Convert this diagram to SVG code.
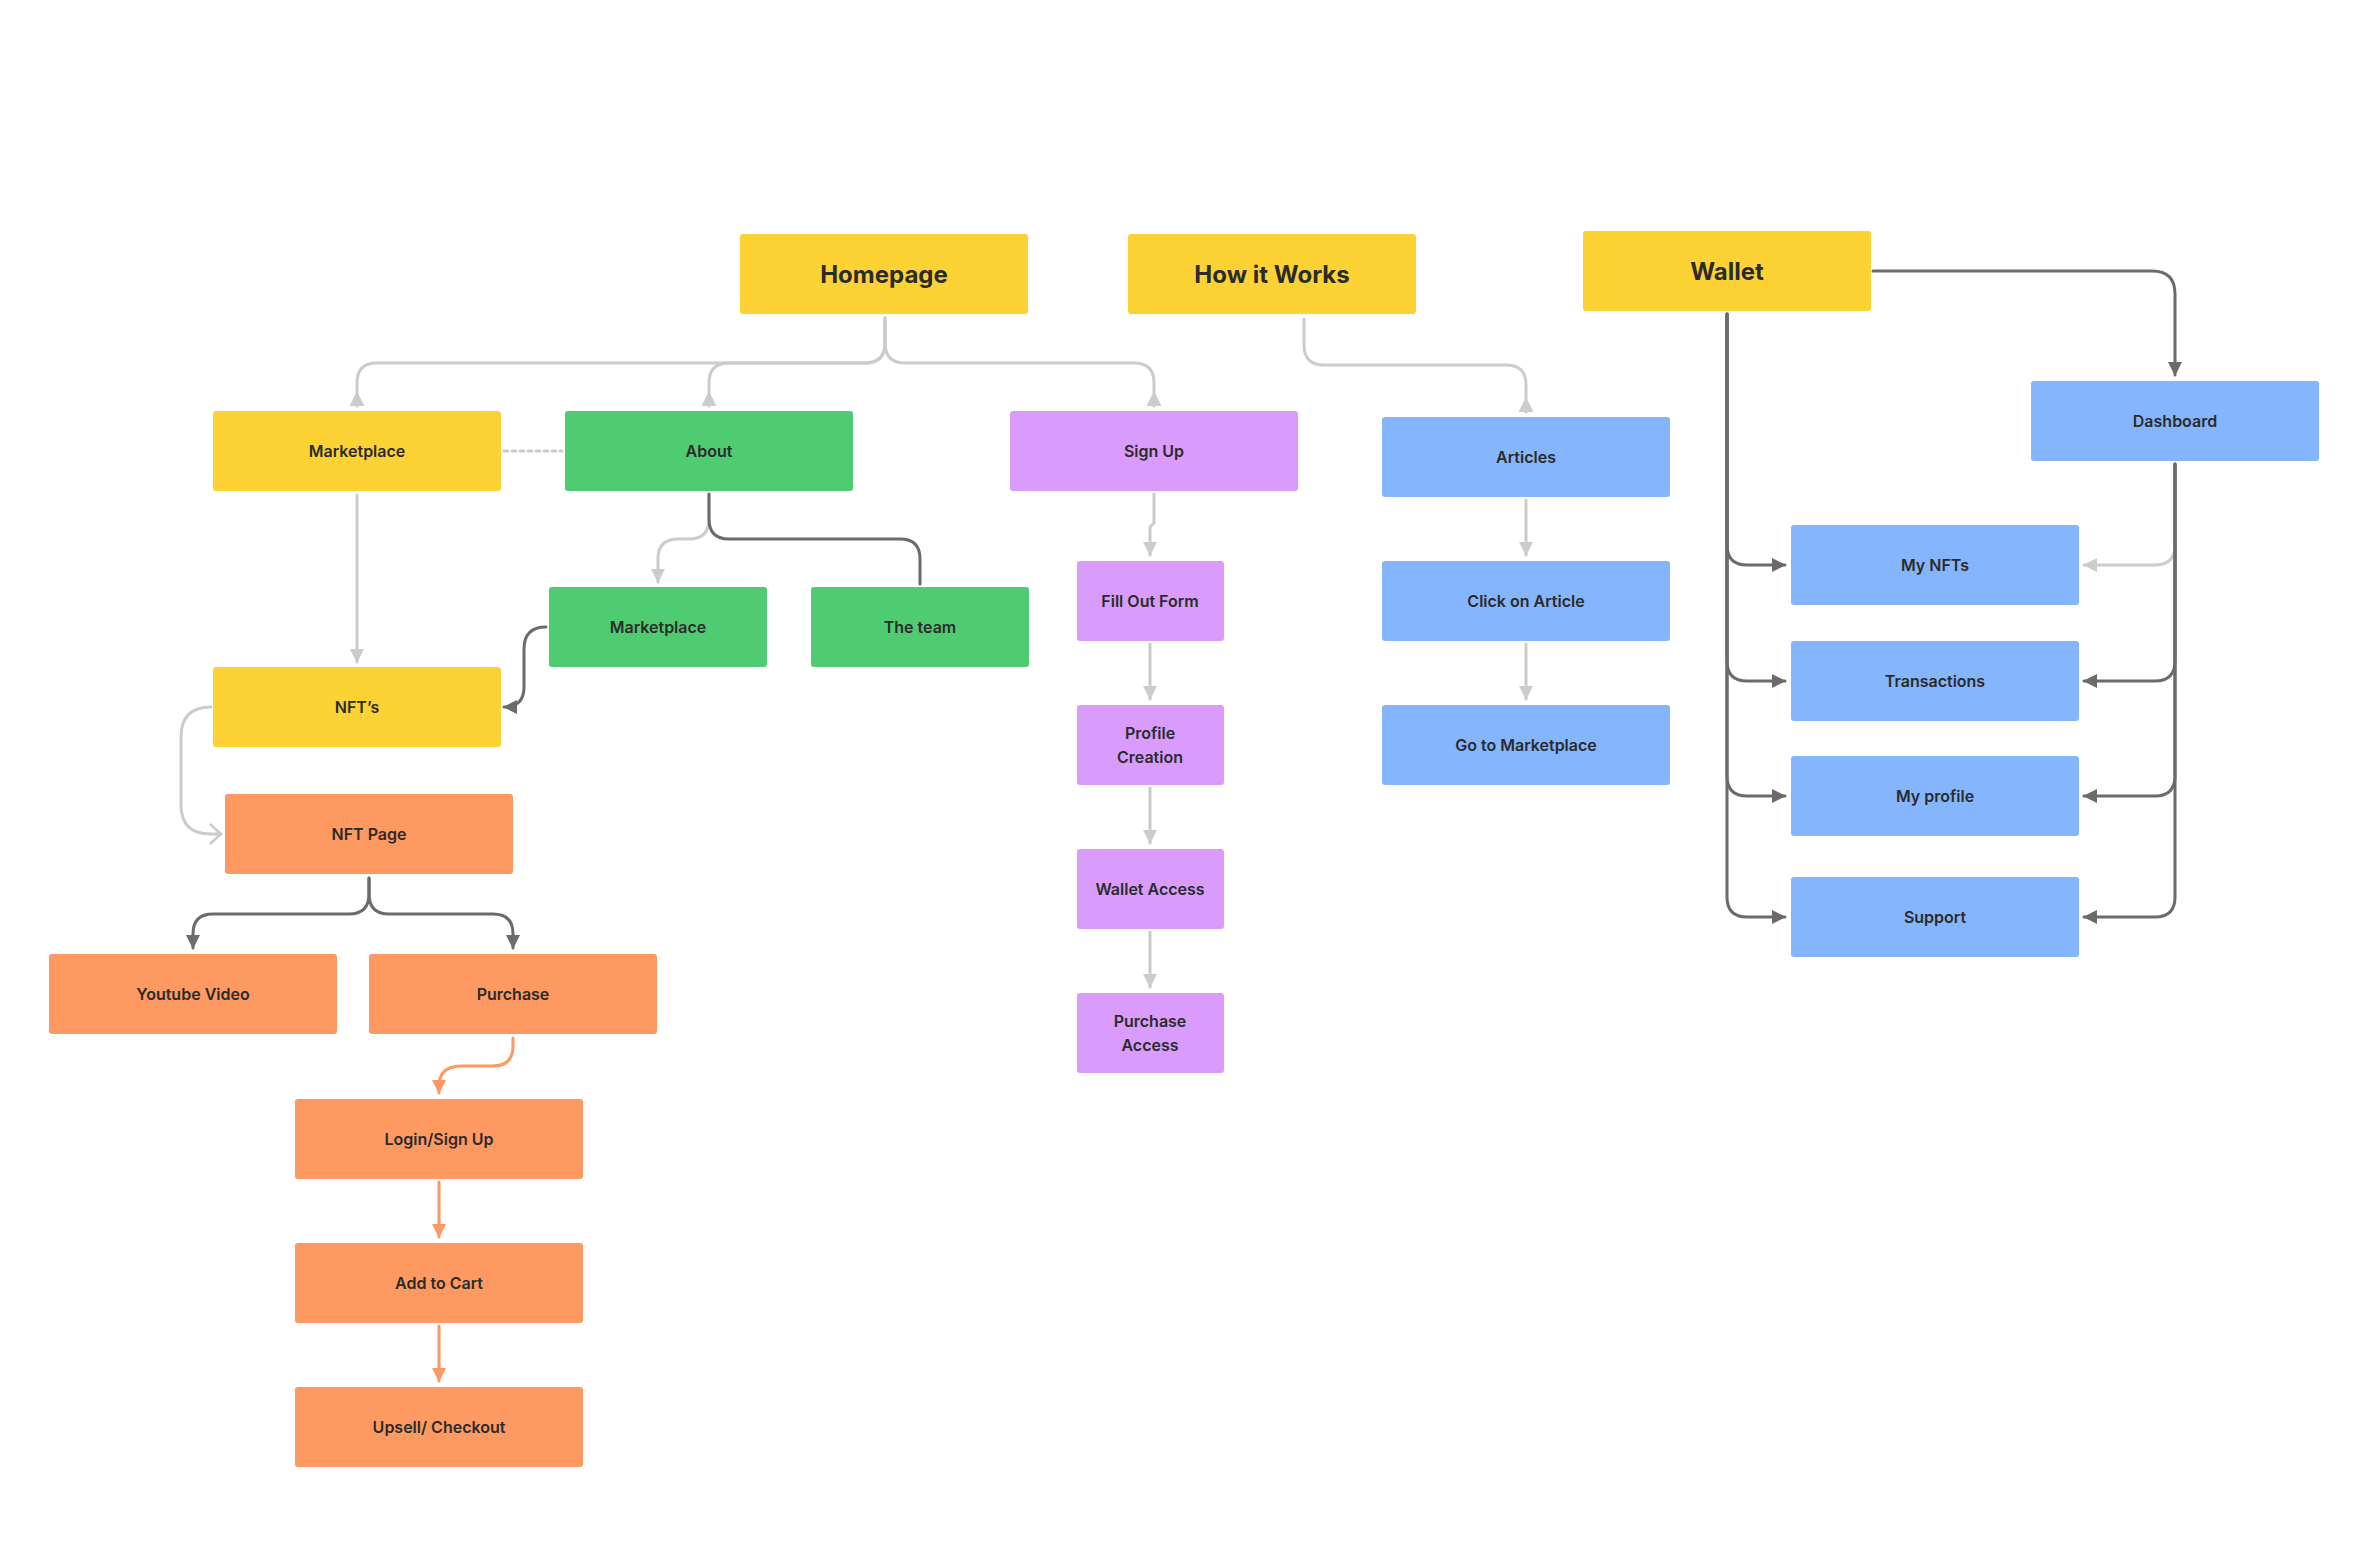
<svg xmlns="http://www.w3.org/2000/svg" width="2368" height="1556" viewBox="0 0 2368 1556">
<style>
.n{stroke:none}
.y{fill:#FDD234}
.g{fill:#4FCB71}
.p{fill:#D99CFC}
.b{fill:#85B5FC}
.o{fill:#FE9A61}
.t{font-family:Inter,"Liberation Sans",sans-serif;font-weight:600;fill:#2B2B2B;text-anchor:middle;dominant-baseline:central;font-size:16px}
.h{font-size:24px;font-weight:700}
.c{fill:none;stroke-width:3;stroke-linecap:round;stroke-linejoin:round}
.lg{stroke:#CCCCCC}
.dk{stroke:#6B6B6E}
.or{stroke:#FE9A61}
</style>
<defs>
<marker id="aL" markerUnits="userSpaceOnUse" viewBox="0 0 14 14" markerWidth="14" markerHeight="14" refX="13" refY="7" orient="auto"><path d="M0,0 L14,7 L0,14 z" fill="#CCCCCC"/></marker>
<marker id="aU" markerUnits="userSpaceOnUse" viewBox="0 0 15 15" markerWidth="15" markerHeight="15" refX="15" refY="7.5" orient="auto"><path d="M15,0 L0,7.5 L15,15 z" fill="#CCCCCC"/></marker>
<marker id="aD" markerUnits="userSpaceOnUse" viewBox="0 0 14 14" markerWidth="14" markerHeight="14" refX="13" refY="7" orient="auto"><path d="M0,0 L14,7 L0,14 z" fill="#6B6B6E"/></marker>
<marker id="aO" markerUnits="userSpaceOnUse" viewBox="0 0 14 14" markerWidth="14" markerHeight="14" refX="13" refY="7" orient="auto"><path d="M0,0 L14,7 L0,14 z" fill="#FE9A61"/></marker>
<marker id="aV" markerUnits="userSpaceOnUse" viewBox="0 0 14 22" markerWidth="14" markerHeight="22" refX="12" refY="11" orient="auto"><path d="M1.5,1.5 L12,11 L1.5,20.5" fill="none" stroke="#CCCCCC" stroke-width="2.5" stroke-linecap="round"/></marker>
</defs>
<rect width="2368" height="1556" fill="#FFFFFF"/>
<g id="connectors">
<path class="c lg" d="M885 318 V343 Q885 363 865 363 H377 Q357 363 357 383 V406" marker-end="url(#aU)"/>
<path class="c lg" d="M885 318 V343 Q885 363 865 363 H729 Q709 363 709 383 V406" marker-end="url(#aU)"/>
<path class="c lg" d="M885 318 V343 Q885 363 905 363 H1134 Q1154 363 1154 383 V406" marker-end="url(#aU)"/>
<path class="c lg" d="M1304 319 V345 Q1304 365 1324 365 H1506 Q1526 365 1526 385 V412" marker-end="url(#aU)"/>
<path class="c lg" d="M504 451 H562" stroke-dasharray="4 4" stroke-linecap="butt"/>
<path class="c lg" d="M357 495 V662" marker-end="url(#aL)"/>
<path class="c lg" d="M709 494 V519 Q709 539 689 539 H678 Q658 539 658 559 V582" marker-end="url(#aL)"/>
<path class="c dk" d="M709 494 V519 Q709 539 729 539 H900 Q920 539 920 559 V584"/>
<path class="c dk" d="M546 627 Q524 627 524 649 V687 Q524 707 504 707" marker-end="url(#aD)"/>
<path class="c lg" d="M211 707 Q181 707 181 737 V805 Q181 834 211 834 H221" marker-end="url(#aV)"/>
<path class="c dk" d="M369 878 V894 Q369 914 349 914 H213 Q193 914 193 934 V948" marker-end="url(#aD)"/>
<path class="c dk" d="M369 878 V894 Q369 914 389 914 H493 Q513 914 513 934 V948" marker-end="url(#aD)"/>
<path class="c or" d="M513 1038 V1046 Q513 1066 493 1066 H462 Q439 1066 439 1086 V1093" marker-end="url(#aO)"/>
<path class="c or" d="M439 1182 V1237" marker-end="url(#aO)"/>
<path class="c or" d="M439 1326 V1381" marker-end="url(#aO)"/>
<path class="c lg" d="M1154 494 V523 L1150 527 V555" marker-end="url(#aL)"/>
<path class="c lg" d="M1150 644 V699" marker-end="url(#aL)"/>
<path class="c lg" d="M1150 788 V843" marker-end="url(#aL)"/>
<path class="c lg" d="M1150 932 V987" marker-end="url(#aL)"/>
<path class="c lg" d="M1526 500 V555" marker-end="url(#aL)"/>
<path class="c lg" d="M1526 644 V699" marker-end="url(#aL)"/>
<path class="c dk" d="M1873 271 H2152 Q2175 271 2175 294 V375" marker-end="url(#aD)"/>
<path class="c dk" d="M1727 314 V545 Q1727 565 1747 565 H1785" marker-end="url(#aD)"/>
<path class="c dk" d="M1727 314 V661 Q1727 681 1747 681 H1785" marker-end="url(#aD)"/>
<path class="c dk" d="M1727 314 V776 Q1727 796 1747 796 H1785" marker-end="url(#aD)"/>
<path class="c dk" d="M1727 314 V897 Q1727 917 1747 917 H1785" marker-end="url(#aD)"/>
<path class="c lg" d="M2175 545 Q2175 565 2155 565 H2084" marker-end="url(#aL)"/>
<path class="c dk" d="M2175 464 V661 Q2175 681 2155 681 H2084" marker-end="url(#aD)"/>
<path class="c dk" d="M2175 464 V776 Q2175 796 2155 796 H2084" marker-end="url(#aD)"/>
<path class="c dk" d="M2175 464 V897 Q2175 917 2155 917 H2084" marker-end="url(#aD)"/>
</g>
<g id="homepage"><rect class="n y" x="740" y="234" width="288" height="80" rx="3"/><text class="t h" x="884" y="274">Homepage</text></g>
<g id="how-it-works"><rect class="n y" x="1128" y="234" width="288" height="80" rx="3"/><text class="t h" x="1272" y="274">How it Works</text></g>
<g id="wallet"><rect class="n y" x="1583" y="231" width="288" height="80" rx="3"/><text class="t h" x="1727" y="271">Wallet</text></g>
<g id="marketplace"><rect class="n y" x="213" y="411" width="288" height="80" rx="3"/><text class="t" x="357" y="451">Marketplace</text></g>
<g id="about"><rect class="n g" x="565" y="411" width="288" height="80" rx="3"/><text class="t" x="709" y="451">About</text></g>
<g id="sign-up"><rect class="n p" x="1010" y="411" width="288" height="80" rx="3"/><text class="t" x="1154" y="451">Sign Up</text></g>
<g id="articles"><rect class="n b" x="1382" y="417" width="288" height="80" rx="3"/><text class="t" x="1526" y="457">Articles</text></g>
<g id="dashboard"><rect class="n b" x="2031" y="381" width="288" height="80" rx="3"/><text class="t" x="2175" y="421">Dashboard</text></g>
<g id="about-marketplace"><rect class="n g" x="549" y="587" width="218" height="80" rx="3"/><text class="t" x="658" y="627">Marketplace</text></g>
<g id="the-team"><rect class="n g" x="811" y="587" width="218" height="80" rx="3"/><text class="t" x="920" y="627">The team</text></g>
<g id="nfts"><rect class="n y" x="213" y="667" width="288" height="80" rx="3"/><text class="t" x="357" y="707">NFT’s</text></g>
<g id="nft-page"><rect class="n o" x="225" y="794" width="288" height="80" rx="3"/><text class="t" x="369" y="834">NFT Page</text></g>
<g id="youtube-video"><rect class="n o" x="49" y="954" width="288" height="80" rx="3"/><text class="t" x="193" y="994">Youtube Video</text></g>
<g id="purchase"><rect class="n o" x="369" y="954" width="288" height="80" rx="3"/><text class="t" x="513" y="994">Purchase</text></g>
<g id="login-sign-up"><rect class="n o" x="295" y="1099" width="288" height="80" rx="3"/><text class="t" x="439" y="1139">Login/Sign Up</text></g>
<g id="add-to-cart"><rect class="n o" x="295" y="1243" width="288" height="80" rx="3"/><text class="t" x="439" y="1283">Add to Cart</text></g>
<g id="upsell-checkout"><rect class="n o" x="295" y="1387" width="288" height="80" rx="3"/><text class="t" x="439" y="1427">Upsell/ Checkout</text></g>
<g id="fill-out-form"><rect class="n p" x="1077" y="561" width="147" height="80" rx="3"/><text class="t" x="1150" y="601">Fill Out Form</text></g>
<g id="profile-creation"><rect class="n p" x="1077" y="705" width="147" height="80" rx="3"/><text class="t" x="1150" y="733">Profile</text><text class="t" x="1150" y="757">Creation</text></g>
<g id="wallet-access"><rect class="n p" x="1077" y="849" width="147" height="80" rx="3"/><text class="t" x="1150" y="889">Wallet Access</text></g>
<g id="purchase-access"><rect class="n p" x="1077" y="993" width="147" height="80" rx="3"/><text class="t" x="1150" y="1021">Purchase</text><text class="t" x="1150" y="1045">Access</text></g>
<g id="click-on-article"><rect class="n b" x="1382" y="561" width="288" height="80" rx="3"/><text class="t" x="1526" y="601">Click on Article</text></g>
<g id="go-to-marketplace"><rect class="n b" x="1382" y="705" width="288" height="80" rx="3"/><text class="t" x="1526" y="745">Go to Marketplace</text></g>
<g id="my-nfts"><rect class="n b" x="1791" y="525" width="288" height="80" rx="3"/><text class="t" x="1935" y="565">My NFTs</text></g>
<g id="transactions"><rect class="n b" x="1791" y="641" width="288" height="80" rx="3"/><text class="t" x="1935" y="681">Transactions</text></g>
<g id="my-profile"><rect class="n b" x="1791" y="756" width="288" height="80" rx="3"/><text class="t" x="1935" y="796">My profile</text></g>
<g id="support"><rect class="n b" x="1791" y="877" width="288" height="80" rx="3"/><text class="t" x="1935" y="917">Support</text></g>
</svg>
